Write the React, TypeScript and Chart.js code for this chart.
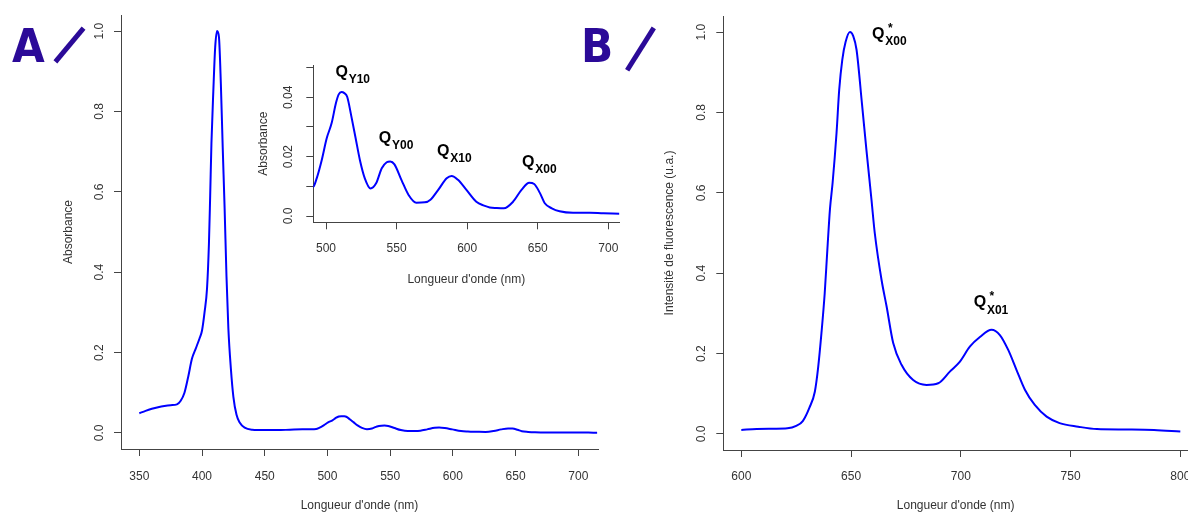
import React, { useEffect, useRef } from 'react';
import { Chart, registerables } from 'chart.js';

Chart.register(...registerables);

// ---------- Data ----------
const A_WAVELENGTH = [
  350, 355, 360, 365, 370, 375, 380, 383, 386, 389, 392, 395, 398, 400, 402, 404, 405.5, 406.5, 407.5, 409,
  410.5, 412, 413.5, 415, 416.5, 418, 419.5, 421, 423, 425, 427.5, 430, 434, 440, 450, 460, 470, 480, 491,
  493.4, 497, 500.5, 504, 507, 509, 511, 513, 515, 518, 521, 524, 527.5, 531.5, 535.5, 539.5, 543, 545.5,
  548.5, 553.5, 558.5, 564, 570, 574, 579.5, 585.5, 589, 593.5, 599.5, 606.5, 612, 616, 621, 626, 632.5,
  638.5, 644, 647.5, 651.5, 655, 660, 665.5, 675, 687, 696.5, 708, 715,
];
const A_ABSORBANCE = [
  0.049, 0.055, 0.06, 0.064, 0.067, 0.069, 0.071, 0.08, 0.1, 0.14, 0.185, 0.21, 0.235, 0.255, 0.3, 0.36, 0.47,
  0.59, 0.72, 0.85, 0.96, 1.0, 0.985, 0.87, 0.71, 0.56, 0.39, 0.26, 0.16, 0.09, 0.045, 0.026, 0.013, 0.008,
  0.007, 0.007, 0.008, 0.009, 0.0099, 0.0127, 0.0189, 0.0262, 0.0313, 0.038, 0.041, 0.0418, 0.0414, 0.0402,
  0.0335, 0.0262, 0.0189, 0.0127, 0.0093, 0.011, 0.0161, 0.0181, 0.0184, 0.0174, 0.0121, 0.0071, 0.0045,
  0.0046, 0.0055, 0.0088, 0.0127, 0.0135, 0.0122, 0.0088, 0.0048, 0.0035, 0.0029, 0.0027, 0.0026, 0.0048,
  0.0088, 0.0112, 0.0108, 0.0078, 0.0043, 0.0026, 0.0016, 0.0011, 0.0011, 0.0009, 0.0008, 0.0007,
];

const B_WAVELENGTH = [
  600, 607, 615, 621, 625, 628, 631, 633.5, 635, 636.5, 638, 639.2, 640.4, 641.6, 643.4, 644.6, 646, 647.5,
  649.5, 651, 652.5, 655, 657, 659.3, 660.8, 663.9, 666.2, 669.2, 673, 678.3, 684.4, 689.7, 695, 699.6, 704.1,
  708.7, 714, 717.8, 721.6, 725.4, 729.2, 733.7, 739.1, 745, 753.5, 762, 775, 788, 800,
];
const B_INTENSITY = [
  0.01, 0.0125, 0.013, 0.014, 0.02, 0.032, 0.065, 0.105, 0.165, 0.25, 0.35, 0.458, 0.56, 0.625, 0.75, 0.856,
  0.931, 0.975, 1.0, 0.99, 0.956, 0.82, 0.707, 0.583, 0.5, 0.383, 0.317, 0.226, 0.172, 0.134, 0.122, 0.126,
  0.155, 0.18, 0.217, 0.241, 0.259, 0.246, 0.209, 0.159, 0.11, 0.072, 0.043, 0.027, 0.018, 0.012, 0.011, 0.01,
  0.006,
];

const A_X_TICKS = [350, 400, 450, 500, 550, 600, 650, 700];
const A_Y_TICKS = [0, 0.2, 0.4, 0.6, 0.8, 1.0];
const A_Y_LABELS = ['0.0', '0.2', '0.4', '0.6', '0.8', '1.0'];
const INSET_X_TICKS = [500, 550, 600, 650, 700];
const INSET_Y_TICKS = [0, 0.01, 0.02, 0.03, 0.04, 0.05];
const INSET_Y_LABELS = ['0.0', '', '0.02', '', '0.04', ''];
const B_X_TICKS = [600, 650, 700, 750, 800];
const B_Y_TICKS = [0, 0.2, 0.4, 0.6, 0.8, 1.0];
const B_Y_LABELS = ['0.0', '0.2', '0.4', '0.6', '0.8', '1.0'];

const INSET_PEAK_NAMES = ['Y10', 'Y00', 'X10', 'X00'];
const INSET_PEAK_X = [511.1, 541.8, 583.1, 643.3];
const INSET_PEAK_Y = [0.0487, 0.0265, 0.0223, 0.0183];
const B_PEAK_NAMES = ['X00', 'X01'];
const B_PEAK_X = [662.4, 708.7];
const B_PEAK_Y = [0.9975, 0.329];

const X_TITLE = "Longueur d'onde (nm)";
const A_Y_TITLE = 'Absorbance';
const B_Y_TITLE = 'Intensité de fluorescence (u.a.)';

// ---------- Styles ----------
const FONT = '"Liberation Sans", Arial, Helvetica, sans-serif';
const AXIS_COLOR = '#444444';
const TEXT_COLOR = '#333333';
const LINE_COLOR = '#0000ff';
const LETTER_COLOR = '#2b0a98';

type PanelSpec = {
  xs: number[];
  ys: number[];
  xMin: number;
  xMax: number;
  yMin: number;
  yMax: number;
  xTicks: number[];
  yTicks: number[];
  yLabels: string[];
  yTitle: string;
  padding: { top: number; right: number; left: number; bottom: number };
  yWidth: number;
  xHeight: number;
  xLabelPad: number;
  xTitlePad: number;
  yLabelPad: number;
  yTitlePad: number;
  peaks?: { names: string[]; xs: number[]; ys: number[]; star: boolean };
};

function peakPlugin(spec: PanelSpec) {
  return {
    id: 'peakLabels',
    afterDatasetsDraw(chart: any) {
      if (!spec.peaks) return;
      const { names, xs, ys, star } = spec.peaks;
      const ctx = chart.ctx as CanvasRenderingContext2D;
      const sx = chart.scales.x;
      const sy = chart.scales.y;
      ctx.save();
      ctx.fillStyle = '#000000';
      ctx.textBaseline = 'alphabetic';
      names.forEach((name, i) => {
        const cx = sx.getPixelForValue(xs[i]);
        const cy = sy.getPixelForValue(ys[i]);
        ctx.font = `bold 16px ${FONT}`;
        ctx.textAlign = 'center';
        ctx.fillText('Q', cx, cy + 5.7);
        ctx.font = `bold 12px ${FONT}`;
        ctx.textAlign = 'left';
        ctx.fillText(name, cx + 7, cy + 11.8);
        if (star) {
          ctx.textAlign = 'center';
          ctx.fillText('*', cx + 12, cy - 1.4);
        }
      });
      ctx.restore();
    },
  };
}

function buildChart(canvas: HTMLCanvasElement, spec: PanelSpec) {
  const font = { family: FONT, size: 12 };
  return new Chart(canvas, {
    type: 'line',
    data: {
      datasets: [
        {
          data: spec.xs.map((x, i) => ({ x, y: spec.ys[i] })),
          borderColor: LINE_COLOR,
          borderWidth: 2,
          pointRadius: 0,
          fill: false,
          cubicInterpolationMode: 'monotone',
        },
      ],
    },
    options: {
      animation: false,
      responsive: false,
      maintainAspectRatio: false,
      events: [],
      layout: { padding: spec.padding },
      plugins: {
        legend: { display: false },
        tooltip: { enabled: false },
        title: { display: false },
      },
      scales: {
        x: {
          type: 'linear',
          min: spec.xMin,
          max: spec.xMax,
          afterBuildTicks: (s: any) => {
            s.ticks = spec.xTicks.map((v) => ({ value: v }));
          },
          afterFit: (s: any) => {
            s.height = spec.xHeight;
            s.paddingLeft = 0;
            s.paddingRight = 0;
          },
          grid: {
            display: true,
            drawOnChartArea: false,
            drawTicks: true,
            tickLength: 7,
            color: AXIS_COLOR,
            lineWidth: 1,
          },
          border: { display: true, color: AXIS_COLOR, width: 1 },
          ticks: {
            autoSkip: false,
            maxRotation: 0,
            minRotation: 0,
            padding: spec.xLabelPad,
            color: TEXT_COLOR,
            font,
            callback: (v: any) => String(v),
          },
          title: {
            display: true,
            text: X_TITLE,
            color: TEXT_COLOR,
            font,
            padding: { top: 0, bottom: spec.xTitlePad },
          },
        },
        y: {
          type: 'linear',
          min: spec.yMin,
          max: spec.yMax,
          afterBuildTicks: (s: any) => {
            s.ticks = spec.yTicks.map((v) => ({ value: v }));
          },
          afterFit: (s: any) => {
            s.width = spec.yWidth;
            s.paddingTop = 0;
            s.paddingBottom = 0;
          },
          grid: {
            display: true,
            drawOnChartArea: false,
            drawTicks: true,
            tickLength: 7,
            color: AXIS_COLOR,
            lineWidth: 1,
          },
          border: { display: true, color: AXIS_COLOR, width: 1 },
          ticks: {
            autoSkip: false,
            minRotation: 90,
            maxRotation: 90,
            crossAlign: 'center',
            padding: spec.yLabelPad,
            color: TEXT_COLOR,
            font,
            callback: (_v: any, i: number) => spec.yLabels[i],
          },
          title: {
            display: true,
            text: spec.yTitle,
            color: TEXT_COLOR,
            font,
            padding: { top: spec.yTitlePad, bottom: 0 },
          },
        },
      },
    },
    plugins: [peakPlugin(spec)],
  } as any);
}

function Panel({ spec, left, top, width, height }: { spec: PanelSpec; left: number; top: number; width: number; height: number }) {
  const ref = useRef<HTMLCanvasElement | null>(null);
  useEffect(() => {
    if (!ref.current) return;
    const chart = buildChart(ref.current, spec);
    return () => chart.destroy();
  }, [spec]);
  return (
    <canvas
      ref={ref}
      width={width}
      height={height}
      style={{ position: 'absolute', left, top, width, height }}
    />
  );
}

const SPEC_A: PanelSpec = {
  xs: A_WAVELENGTH,
  ys: A_ABSORBANCE,
  xMin: 335.4,
  xMax: 715.7,
  yMin: -0.04,
  yMax: 1.04,
  xTicks: A_X_TICKS,
  yTicks: A_Y_TICKS,
  yLabels: A_Y_LABELS,
  yTitle: A_Y_TITLE,
  padding: { top: 15, right: 2, left: 0, bottom: 0 },
  yWidth: 121,
  xHeight: 64,
  xLabelPad: 13.5,
  xTitlePad: 0,
  yLabelPad: 6,
  yTitlePad: 61,
};

const SPEC_INSET: PanelSpec = {
  xs: A_WAVELENGTH,
  ys: A_ABSORBANCE,
  xMin: 491,
  xMax: 707.8,
  yMin: -0.00212,
  yMax: 0.05088,
  xTicks: INSET_X_TICKS,
  yTicks: INSET_Y_TICKS,
  yLabels: INSET_Y_LABELS,
  yTitle: A_Y_TITLE,
  padding: { top: 25, right: 10.7, left: 0, bottom: 0 },
  yWidth: 73.3,
  xHeight: 77.7,
  xLabelPad: 12.5,
  xTitlePad: 12.8,
  yLabelPad: 6.3,
  yTitlePad: 16,
  peaks: { names: INSET_PEAK_NAMES, xs: INSET_PEAK_X, ys: INSET_PEAK_Y, star: false },
};

const SPEC_B: PanelSpec = {
  xs: B_WAVELENGTH,
  ys: B_INTENSITY,
  xMin: 591.8,
  xMax: 803.5,
  yMin: -0.04,
  yMax: 1.04,
  xTicks: B_X_TICKS,
  yTicks: B_Y_TICKS,
  yLabels: B_Y_LABELS,
  yTitle: B_Y_TITLE,
  padding: { top: 16, right: 0, left: 0, bottom: 0 },
  yWidth: 123.3,
  xHeight: 63,
  xLabelPad: 12.5,
  xTitlePad: 0,
  yLabelPad: 6.25,
  yTitlePad: 62.8,
  peaks: { names: B_PEAK_NAMES, xs: B_PEAK_X, ys: B_PEAK_Y, star: true },
};

function PanelLetter({
  letter,
  left,
  slash,
}: {
  letter: string;
  left: number;
  slash: { cx: number; cy: number; len: number; angle: number };
}) {
  return (
    <>
      <div
        style={{
          position: 'absolute',
          left,
          top: 21.5,
          fontFamily: '"DejaVu Sans", sans-serif',
          fontWeight: 'bold',
          fontSize: 47,
          lineHeight: '47px',
          color: LETTER_COLOR,
          whiteSpace: 'nowrap',
          transform: 'scaleX(0.9)',
          transformOrigin: 'left top',
        }}
      >
        {letter}
      </div>
      <div
        style={{
          position: 'absolute',
          left: slash.cx - 2.4,
          top: slash.cy - slash.len / 2,
          width: 4.8,
          height: slash.len,
          background: LETTER_COLOR,
          transform: `rotate(${slash.angle}deg)`,
          transformOrigin: 'center center',
        }}
      />
    </>
  );
}

export default function App() {
  return (
    <div
      style={{
        position: 'fixed',
        left: 0,
        top: 0,
        width: 1188,
        height: 513,
        background: '#ffffff',
        overflow: 'hidden',
      }}
    >
      <Panel spec={SPEC_A} left={0} top={0} width={600} height={513} />
      <Panel spec={SPEC_INSET} left={240} top={40} width={390} height={260} />
      <Panel spec={SPEC_B} left={600} top={0} width={588} height={513} />
      <PanelLetter letter="A" left={12} slash={{ cx: 69.2, cy: 44.7, len: 44, angle: 39.8 }} />
      <PanelLetter letter="B" left={581} slash={{ cx: 640, cy: 48.9, len: 50, angle: 32.2 }} />
    </div>
  );
}
